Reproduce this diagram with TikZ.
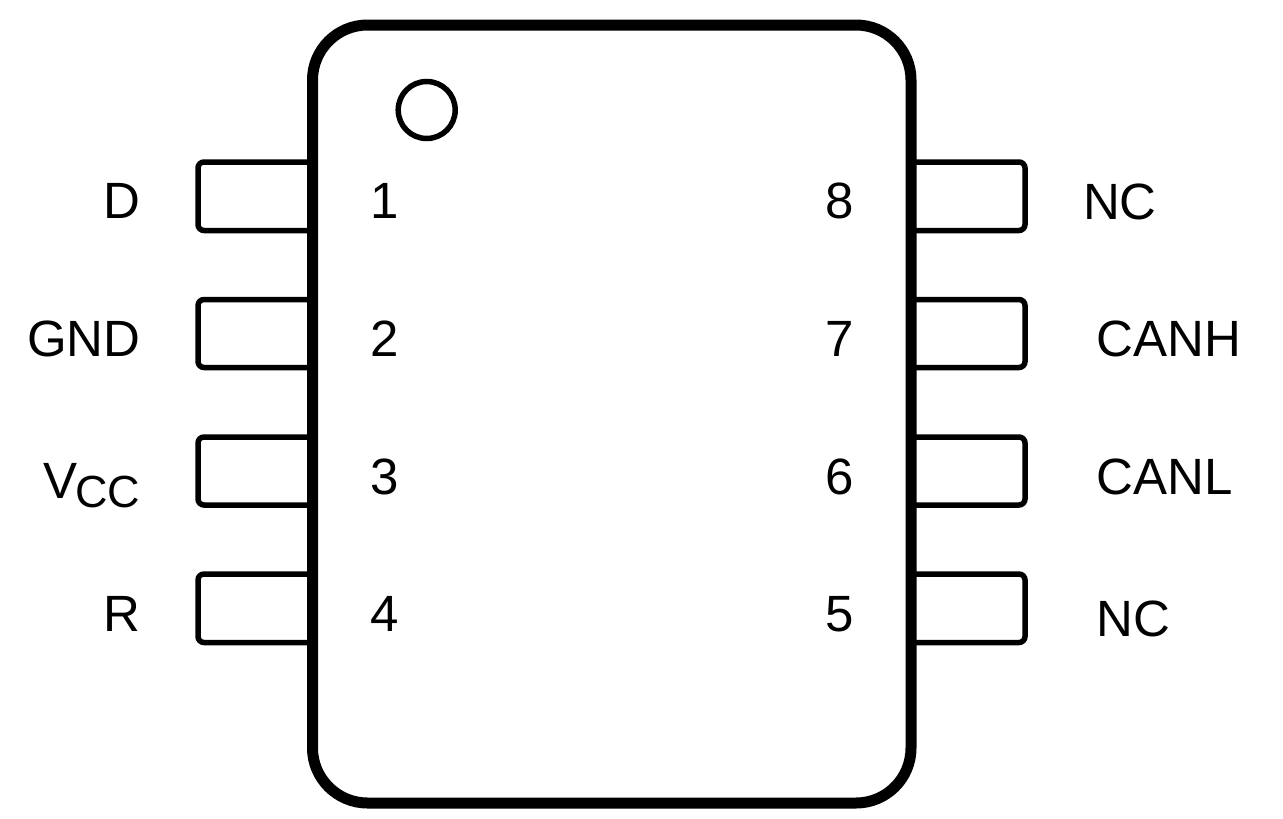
\documentclass[tikz,border=0pt]{standalone}
\usepackage{fontspec}
\setmainfont{Liberation Sans}
\tikzset{
  body/.style={draw=black,line width=11pt,rounded corners=55pt},
  mark1/.style={draw=black,line width=5.5pt},
  pinbox/.style={draw=black,line width=5.5pt,rounded corners=6pt},
  lab/.style={inner sep=0pt,outer sep=0pt,font=\fontsize{51}{51}\selectfont,text=black},
  sublab/.style={inner sep=0pt,outer sep=0pt,font=\fontsize{45}{45}\selectfont,text=black}
}
\begin{document}
\begin{tikzpicture}[x=1pt,y=-1pt]
\useasboundingbox (0,0) rectangle (1283,819);
% pins
\foreach \t/\b in {162/230.5,299.5/367.5,437/505,574/642.5}{
  \draw[pinbox] (312,\t) -- (198,\t) -- (198,\b) -- (312,\b);
}
\foreach \t/\b in {162/230.5,299.5/367.5,437/505,574/642.5}{
  \draw[pinbox] (911,\t) -- (1025,\t) -- (1025,\b) -- (911,\b);
}
% body
\draw[body] (312.5,25) rectangle (911,803);
\node[mark1,circle,minimum size=57pt,inner sep=0pt] (dot) at (426.7,110) {};
% left labels
\node[lab,anchor=base east] (lD) at (140.5,218) {D};
\node[lab,anchor=base east] (lG) at (140.5,356) {GND};
\node[lab,anchor=base west] (lV) at (43,498) {V};
\node[sublab,anchor=base east] (lC) at (140,507.5) {CC};
\node[lab,anchor=base east] (lR) at (140.5,631) {R};
% pin numbers
\node[lab,anchor=base] (n1) at (384.5,218) {1};
\node[lab,anchor=base] (n2) at (384.5,356) {2};
\node[lab,anchor=base] (n3) at (384.5,494) {3};
\node[lab,anchor=base] (n4) at (384.5,631) {4};
\node[lab,anchor=base] (n8) at (839.5,218) {8};
\node[lab,anchor=base] (n7) at (839.5,356) {7};
\node[lab,anchor=base] (n6) at (839.5,494) {6};
\node[lab,anchor=base] (n5) at (839.5,631) {5};
% right labels
\node[lab,anchor=base west] (r8) at (1083,219) {NC};
\node[lab,anchor=base west] (r7) at (1096.5,356) {CANH};
\node[lab,anchor=base west] (r6) at (1096.5,494) {CANL};
\node[lab,anchor=base west] (r5) at (1096.5,636) {NC};
\end{tikzpicture}
\end{document}
